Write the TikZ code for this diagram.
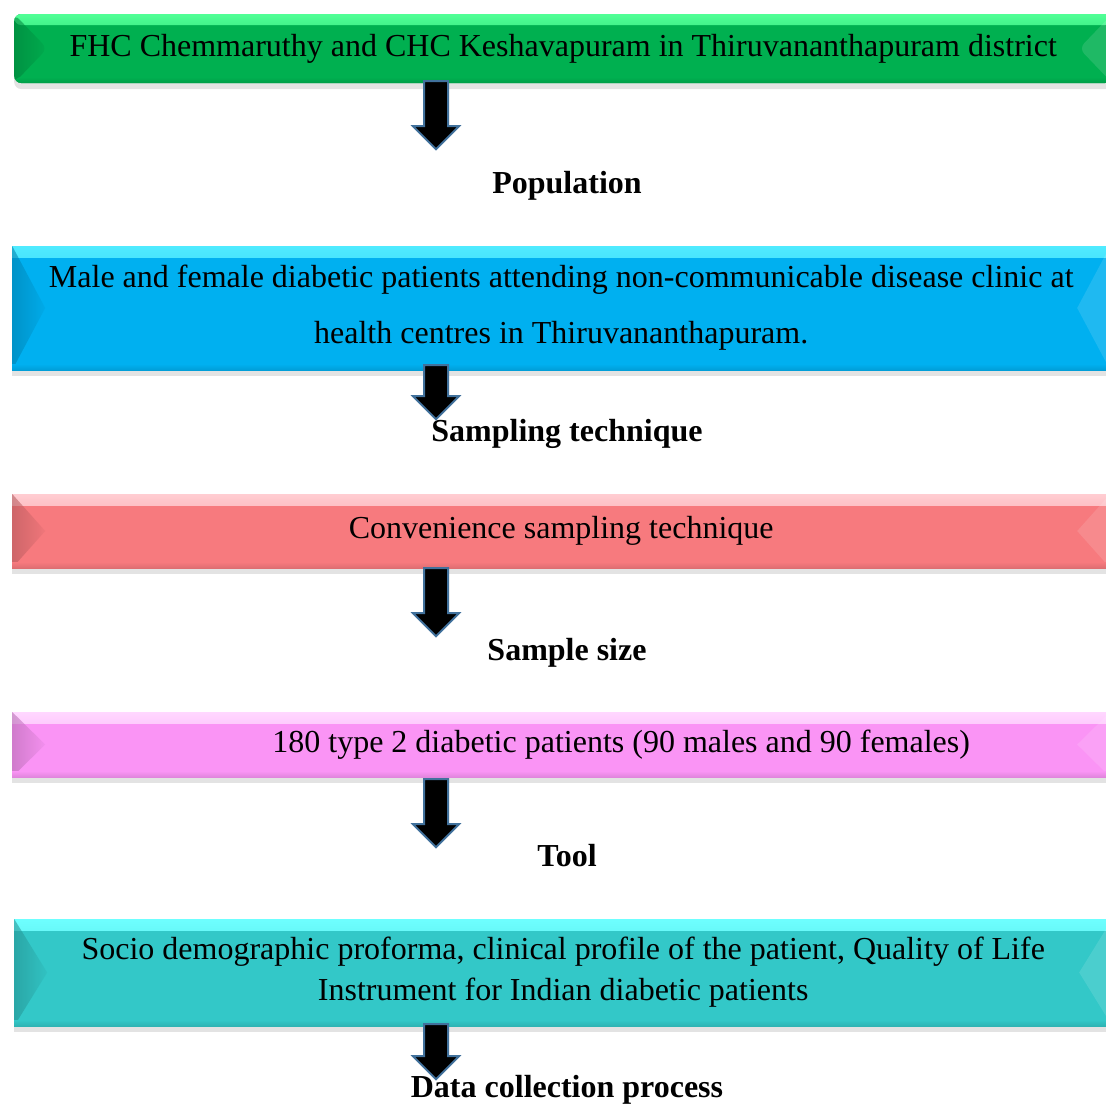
\documentclass[tikz,border=0pt]{standalone}
\usepackage{fontspec}
\setmainfont{Liberation Serif}
\usepackage{xcolor}
\usetikzlibrary{positioning,shapes.arrows,shadows}

\definecolor{grnbase}{RGB}{0,176,80}
\definecolor{grntop}{RGB}{80,255,150}
\definecolor{blubase}{RGB}{0,176,240}
\definecolor{blutop}{RGB}{80,235,255}
\definecolor{redbase}{RGB}{247,122,126}
\definecolor{redtop}{RGB}{255,205,210}
\definecolor{pnkbase}{RGB}{250,148,245}
\definecolor{pnktop}{RGB}{255,215,255}
\definecolor{tealbase}{RGB}{51,200,200}
\definecolor{tealtop}{RGB}{110,255,255}
\definecolor{arrline}{RGB}{65,113,156}

\begin{document}
\begin{tikzpicture}[
    x=1pt, y=-1pt,
    font=\fontsize{32}{41}\selectfont,
    bevelbox/.style 2 args={rectangle, fill=#1, minimum width=1098pt, inner sep=0pt, align=center, anchor=west,
        drop shadow={shadow xshift=0pt, shadow yshift=-6pt, opacity=.22},
        path picture={
            \shade[top color=#2, bottom color=#1] (path picture bounding box.north west) rectangle ([yshift=-11pt]path picture bounding box.north east);
            \shade[left color=#1!70!black, right color=#1!95!black, opacity=.55] (path picture bounding box.north west) -- ([xshift=33pt]path picture bounding box.west) -- (path picture bounding box.south west) -- cycle;
            \fill[white, opacity=.12] (path picture bounding box.north east) -- ([xshift=-33pt]path picture bounding box.east) -- (path picture bounding box.south east) -- cycle;
            \shade[top color=#1, bottom color=#1!90!black] ([yshift=6pt]path picture bounding box.south west) rectangle (path picture bounding box.south east);
        }},
    downarrow/.style={single arrow, shape border rotate=270, draw=arrline, line width=2pt, fill=black,
        minimum width=44pt, single arrow head extend=11pt, single arrow tip angle=90, inner sep=11pt, anchor=tail},
    steplabel/.style={font=\bfseries\fontsize{32}{38}\selectfont, anchor=base}
]
\useasboundingbox (0,0) rectangle (1106,1104);
\coordinate (axis) at (436,0);

\node[bevelbox={grnbase}{grntop}, rounded corners=7pt, minimum height=69pt] (b1) at (14,48.5)
    {FHC Chemmaruthy and CHC Keshavapuram in Thiruvananthapuram district};
\node[bevelbox={blubase}{blutop}, minimum height=124pt, font=\fontsize{32}{56}\selectfont] (b2) at (12,308)
    {Male and female diabetic patients attending non-communicable disease clinic at\\ health centres in Thiruvananthapuram.};
\node[bevelbox={redbase}{redtop}, minimum height=74pt] (b3) at (12,531)
    {Convenience sampling technique};
\node[bevelbox={pnkbase}{pnktop}, minimum height=65pt] (b4) at (12,744.5)
    {\hspace*{120pt}180 type 2 diabetic patients (90 males and 90 females)};
\node[bevelbox={tealbase}{tealtop}, minimum height=107pt] (b5) at (14,972.5)
    {Socio demographic proforma, clinical profile of the patient, Quality of Life\\ Instrument for Indian diabetic patients};

\node[steplabel] (l1) at (567,193) {Population};
\node[steplabel] (l2) at (567,441) {Sampling technique};
\node[steplabel] (l3) at (567,660) {Sample size};
\node[steplabel] (l4) at (567,866) {Tool};
\node[steplabel] (l5) at (567,1097) {Data collection process};

\node[downarrow, minimum height=68pt] (a1) at ([yshift=3pt]b1.south -| axis) {};
\node[downarrow, minimum height=54pt] (a2) at ([yshift=6pt]b2.south -| axis) {};
\node[downarrow, minimum height=68pt] (a3) at ([yshift=1pt]b3.south -| axis) {};
\node[downarrow, minimum height=68pt] (a4) at ([yshift=-1pt]b4.south -| axis) {};
\node[downarrow, minimum height=55pt] (a5) at ([yshift=3pt]b5.south -| axis) {};
\end{tikzpicture}
\end{document}
